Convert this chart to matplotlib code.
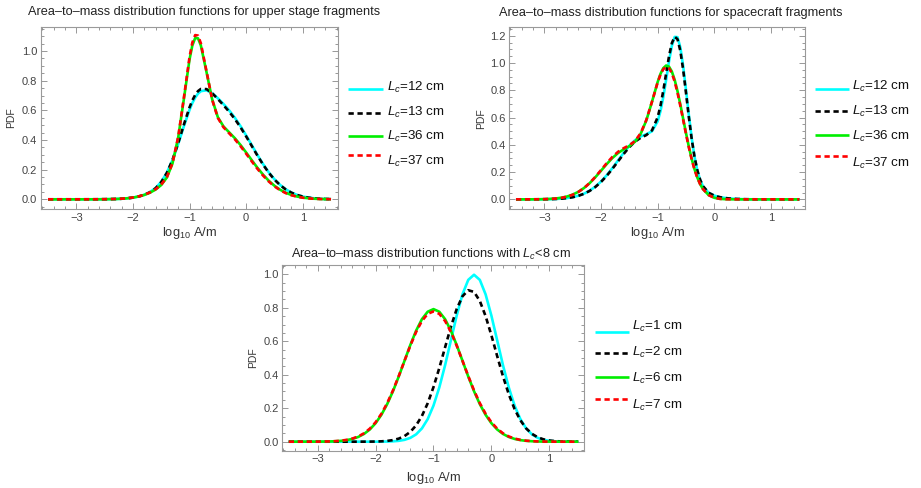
import matplotlib
matplotlib.use("Agg")
import matplotlib.pyplot as plt
from matplotlib.lines import Line2D
from matplotlib.ticker import MultipleLocator

plt.rcParams['font.family'] = ['Liberation Sans', 'DejaVu Sans']
plt.rcParams['mathtext.fontset'] = 'custom'
plt.rcParams['mathtext.rm'] = 'Liberation Sans'
plt.rcParams['mathtext.it'] = 'Liberation Sans:italic'
plt.rcParams['mathtext.bf'] = 'Liberation Sans:bold'

# ---------------- data: upper stage fragments ----------------
x_us = [-3.5, -2.9, -2.8, -2.7, -2.6, -2.5, -2.4, -2.3, -2.2, -2.1, -2.0, -1.9, -1.8, -1.7,
        -1.6, -1.5, -1.4, -1.3, -1.2, -1.1, -1.0, -0.95, -0.9, -0.85, -0.8, -0.7, -0.6,
        -0.5, -0.4, -0.3, -0.2, -0.1, 0.0, 0.1, 0.2, 0.3, 0.4, 0.5, 0.6, 0.7, 0.8, 0.9,
        1.0, 1.1, 1.2, 1.3, 1.4, 1.5]
us_12 = [0, 0, 0.0001, 0.0001, 0.0003, 0.0006, 0.0011, 0.0021, 0.0038, 0.0067, 0.0114,
         0.0189, 0.0305, 0.0483, 0.0758, 0.1177, 0.1796, 0.2653, 0.3732, 0.4921, 0.603,
         0.649, 0.6858, 0.7126, 0.7293, 0.7353, 0.7153, 0.682, 0.6431, 0.5999, 0.5505,
         0.494, 0.4312, 0.365, 0.2991, 0.2373, 0.1821, 0.1353, 0.0972, 0.0676, 0.0454,
         0.0296, 0.0187, 0.0114, 0.0067, 0.0038, 0.0021, 0.0011]
us_13 = [0, 0, 0.0001, 0.0001, 0.0003, 0.0006, 0.0011, 0.0021, 0.0038, 0.0066, 0.0112,
         0.0186, 0.0299, 0.0473, 0.0742, 0.1159, 0.1782, 0.2662, 0.3786, 0.5036, 0.6197,
         0.6668, 0.7039, 0.7296, 0.7441, 0.7432, 0.7156, 0.6766, 0.6347, 0.5908, 0.5419,
         0.4863, 0.4246, 0.3595, 0.2946, 0.2337, 0.1794, 0.1333, 0.0958, 0.0665, 0.0447,
         0.0291, 0.0184, 0.0112, 0.0066, 0.0038, 0.0021, 0.0011]
us_36 = [0, 0, 0.0001, 0.0001, 0.0003, 0.0007, 0.0013, 0.0022, 0.004, 0.0069, 0.0116,
         0.0187, 0.0292, 0.0443, 0.0655, 0.0962, 0.147, 0.2425, 0.4169, 0.6752, 0.9425,
         1.0376, 1.0873, 1.086, 1.0382, 0.8588, 0.6742, 0.5544, 0.4916, 0.4518, 0.4125,
         0.3668, 0.316, 0.2635, 0.2125, 0.1658, 0.1252, 0.0915, 0.0647, 0.0442, 0.0292,
         0.0187, 0.0116, 0.0069, 0.004, 0.0022, 0.0013, 0.0007]
us_37 = [0, 0, 0.0001, 0.0002, 0.0004, 0.0007, 0.0014, 0.0024, 0.0042, 0.0073, 0.0122,
         0.0196, 0.0305, 0.046, 0.0676, 0.0986, 0.1493, 0.2445, 0.4203, 0.684, 0.959,
         1.0569, 1.1073, 1.1043, 1.0528, 0.8638, 0.6721, 0.5494, 0.4857, 0.4452, 0.4051,
         0.3589, 0.308, 0.2559, 0.2056, 0.1598, 0.1202, 0.0875, 0.0616, 0.0419, 0.0276,
         0.0176, 0.0109, 0.0065, 0.0037, 0.0021, 0.0012, 0.0006]

# ---------------- data: spacecraft fragments ----------------
x_sc = [-3.5, -3.3, -3.2, -3.1, -3.0, -2.9, -2.8, -2.7, -2.6, -2.5, -2.4, -2.3, -2.2, -2.1,
        -2.0, -1.9, -1.8, -1.7, -1.6, -1.5, -1.4, -1.3, -1.2, -1.1, -1.0, -0.95, -0.9,
        -0.85, -0.8, -0.75, -0.7, -0.65, -0.6, -0.55, -0.5, -0.45, -0.4, -0.35, -0.3,
        -0.25, -0.2, -0.1, 0.0, 0.1, 0.2, 0.3, 0.4, 0.5, 0.6, 0.7, 0.8, 0.9, 1.0, 1.5]
sc_12 = [0, 0.0001, 0.0002, 0.0003, 0.0007, 0.0014, 0.0028, 0.0052, 0.0093, 0.016, 0.0264,
         0.0417, 0.0635, 0.0929, 0.1305, 0.1762, 0.2285, 0.2848, 0.3409, 0.3921, 0.4335,
         0.4613, 0.4773, 0.4991, 0.5727, 0.6473, 0.7514, 0.8788, 1.0119, 1.1251, 1.1913,
         1.1897, 1.1147, 0.9778, 0.8032, 0.6195, 0.4515, 0.3139, 0.2118, 0.1413, 0.0953,
         0.0479, 0.0273, 0.0161, 0.0093, 0.0052, 0.0028, 0.0014, 0.0007, 0.0003, 0.0002,
         0.0001, 0, 0]
sc_13 = [0, 0.0001, 0.0002, 0.0003, 0.0007, 0.0014, 0.0027, 0.0051, 0.0091, 0.0156, 0.0258,
         0.0407, 0.062, 0.0907, 0.1274, 0.172, 0.2231, 0.278, 0.3328, 0.3828, 0.4234,
         0.4515, 0.4716, 0.506, 0.6016, 0.6869, 0.7979, 0.9246, 1.0485, 1.1455, 1.1927,
         1.1746, 1.0898, 0.9511, 0.7809, 0.6049, 0.4445, 0.3125, 0.2131, 0.1434, 0.097,
         0.0481, 0.027, 0.0157, 0.0091, 0.0051, 0.0027, 0.0014, 0.0007, 0.0003, 0.0002,
         0.0001, 0, 0]
sc_36 = [0, 0.0001, 0.0003, 0.0007, 0.0016, 0.0033, 0.0064, 0.0118, 0.0208, 0.0347, 0.055,
         0.083, 0.1189, 0.1619, 0.2096, 0.2582, 0.3028, 0.3393, 0.3669, 0.3903, 0.4221,
         0.4801, 0.579, 0.7156, 0.8607, 0.9207, 0.9628, 0.9818, 0.9737, 0.9381, 0.8766,
         0.7938, 0.6964, 0.5914, 0.4862, 0.3868, 0.2977, 0.2217, 0.1597, 0.1114, 0.0751,
         0.031, 0.0113, 0.0036, 0.0011, 0.0003, 0.0001, 0, 0, 0, 0, 0, 0, 0]
sc_37 = [0, 0.0001, 0.0003, 0.0006, 0.0014, 0.0029, 0.0058, 0.0109, 0.0197, 0.0335, 0.0541,
         0.0827, 0.1199, 0.1648, 0.2145, 0.2651, 0.3111, 0.3482, 0.3751, 0.3973, 0.4277,
         0.4848, 0.5823, 0.7167, 0.8578, 0.9153, 0.9551, 0.972, 0.9624, 0.9258, 0.8643,
         0.7822, 0.6859, 0.5826, 0.4793, 0.3816, 0.2942, 0.2195, 0.1584, 0.1107, 0.0749,
         0.031, 0.0113, 0.0036, 0.0009, 0.0002, 0, 0, 0, 0, 0, 0, 0, 0]

# ---------------- data: Lc < 8 cm ----------------
x_sm = [-3.5, -3.2, -3.1, -3.0, -2.9, -2.8, -2.7, -2.6, -2.5, -2.4, -2.3, -2.2, -2.1, -2.0,
        -1.9, -1.8, -1.7, -1.6, -1.5, -1.4, -1.3, -1.2, -1.1, -1.0, -0.9, -0.8, -0.7, -0.6,
        -0.5, -0.4, -0.3, -0.2, -0.1, 0.0, 0.1, 0.2, 0.3, 0.4, 0.5, 0.6, 0.7, 0.8, 0.9,
        1.0, 1.1, 1.2, 1.3, 1.4, 1.5]
sm_1 = [0, 0, 0, 0, 0, 0, 0, 0, 0, 0, 0, 0, 0, 0,
        0.0003, 0.0009, 0.0022, 0.0051, 0.0111, 0.0228, 0.0438, 0.0793, 0.135, 0.2158,
        0.3238, 0.4566, 0.605, 0.7528, 0.880, 0.9666, 0.9974, 0.9666, 0.880, 0.7528, 0.605,
        0.4566, 0.3238, 0.2158, 0.135, 0.0793, 0.0438, 0.0228, 0.0111, 0.0051, 0.0022,
        0.0009, 0.0003, 0.0001, 0]
sm_2 = [0, 0, 0, 0, 0, 0, 0, 0, 0, 0, 0, 0.0002, 0.0004, 0.001,
        0.0022, 0.0047, 0.0095, 0.0183, 0.0337, 0.0588, 0.0976, 0.1537, 0.2298, 0.3264,
        0.44, 0.5637, 0.6856, 0.7918, 0.8686, 0.9047, 0.895, 0.8408, 0.75, 0.6354, 0.5112,
        0.3906, 0.2834, 0.1953, 0.1278, 0.0794, 0.0469, 0.0263, 0.014, 0.0071, 0.0034,
        0.0016, 0.0007, 0.0003, 0.0001]
sm_6 = [0, 0.0001, 0.0001, 0.0003, 0.0006, 0.0013, 0.0027, 0.0051, 0.0094, 0.0167, 0.0283,
        0.0463, 0.0729, 0.1104, 0.1605, 0.2244, 0.3015, 0.3896, 0.4839, 0.5779, 0.6633,
        0.732, 0.7765, 0.792, 0.7765, 0.732, 0.6633, 0.5779, 0.4839, 0.3896, 0.3015,
        0.2244, 0.1605, 0.1104, 0.0729, 0.0463, 0.0283, 0.0167, 0.0094, 0.0051, 0.0027,
        0.0013, 0.0006, 0.0003, 0.0001, 0.0001, 0, 0, 0]
sm_7 = [0, 0.0001, 0.0002, 0.0004, 0.0008, 0.0016, 0.0032, 0.006, 0.0108, 0.0187, 0.0312,
        0.0502, 0.0778, 0.116, 0.1666, 0.2303, 0.3063, 0.3923, 0.4836, 0.574, 0.6558,
        0.7212, 0.7636, 0.7783, 0.7636, 0.7212, 0.6558, 0.574, 0.4836, 0.3923, 0.3063,
        0.2303, 0.1666, 0.116, 0.0778, 0.0502, 0.0312, 0.0187, 0.0108, 0.006, 0.0032,
        0.0016, 0.0008, 0.0004, 0.0002, 0.0001, 0, 0, 0]

labels_us = ['$L_c$=12 cm', '$L_c$=13 cm', '$L_c$=36 cm', '$L_c$=37 cm']
labels_sm = ['$L_c$=1 cm', '$L_c$=2 cm', '$L_c$=6 cm', '$L_c$=7 cm']
titles = ['Area–to–mass distribution functions for upper stage fragments',
          'Area–to–mass distribution functions for spacecraft fragments',
          'Area–to–mass distribution functions with $L_c$<8 cm']
xlabel = 'log$_{10}$ A/m'
ylabel = 'PDF'
x_ticks = [-3, -2, -1, 0, 1]

# ---------------- styling ----------------
W, H = 921, 488
fig = plt.figure(figsize=(W / 100, H / 100), dpi=100)

LW = 1.9
styles = [dict(color='#00FFFF', lw=LW, ls='-'),
          dict(color='black', lw=LW, ls=(0, (2.0, 1.4))),
          dict(color='#00EE00', lw=LW, ls='-'),
          dict(color='#FF0000', lw=LW, ls=(0, (2.0, 1.4)))]

TICK_C = '#444444'
FRAME_C = '#9a9a9a'


def fx(px):
    return px / W


def fy(py):
    return 1 - py / H


def make_panel(box, xlim, ylim, xs, ys, title, title_xy, xlab_y, ylab_x,
               leg_x, leg_lines_y, leg_text_y, labels, ymax_tick):
    l, r, t, b = box
    ax = fig.add_axes([fx(l), fy(b), (r - l) / W, (b - t) / H])
    for y, st in zip(ys, styles):
        ax.plot(xs, y, solid_capstyle='butt', dash_capstyle='butt',
                solid_joinstyle='round', **st)
    ax.set_xlim(*xlim)
    ax.set_ylim(*ylim)
    ax.set_xticks(x_ticks)
    ax.set_xticklabels(['−3', '−2', '−1', '0', '1'])
    yt = [round(0.2 * i, 1) for i in range(int(round(ymax_tick / 0.2)) + 1)]
    ax.set_yticks(yt)
    ax.set_yticklabels([f'{v:.1f}' for v in yt])
    ax.xaxis.set_minor_locator(MultipleLocator(0.2))
    ax.yaxis.set_minor_locator(MultipleLocator(0.05))
    ax.tick_params(which='both', direction='in', top=True, right=True,
                   color='#888888', width=0.6, labelsize=8, labelcolor=TICK_C, pad=2.5)
    ax.tick_params(which='major', length=4)
    ax.tick_params(which='minor', length=2)
    for s in ax.spines.values():
        s.set_color(FRAME_C)
        s.set_linewidth(0.8)
    fig.text(fx(title_xy[0]), fy(title_xy[1]), title, ha='center', va='center',
             fontsize=9.2, color='#222222')
    fig.text(fx((l + r) / 2), fy(xlab_y), xlabel, ha='center', va='center',
             fontsize=9.3, color='#333333')
    fig.text(fx(ylab_x), fy((t + b) / 2), ylabel, ha='center', va='center',
             rotation=90, fontsize=7.5, color='#333333')
    x0, x1, xt = leg_x
    for st, ly, ty, lab in zip(styles, leg_lines_y, leg_text_y, labels):
        fig.add_artist(Line2D([fx(x0), fx(x1)], [fy(ly), fy(ly)], transform=fig.transFigure,
                              solid_capstyle='butt', dash_capstyle='butt', **st))
        fig.text(fx(xt), fy(ty), lab, ha='left', va='center', fontsize=9.6, color='#111111')
    return ax


make_panel((40.7, 337.7, 26.7, 209.3), (-3.629, 1.618), (-0.0674, 1.164),
           x_us, [us_12, us_13, us_36, us_37], titles[0], (203.7, 12.5), 233, 11,
           (348, 383, 386.5), [89, 112.5, 135.5, 155], [87, 112.5, 136.5, 161],
           labels_us, 1.0)

make_panel((509.3, 805, 27.3, 209.3), (-3.618, 1.600), (-0.073, 1.262),
           x_sc, [sc_12, sc_13, sc_36, sc_37], titles[1], (670.5, 12.7), 233, 480.7,
           (815, 849, 851.5), [89, 111.5, 135, 156], [86.5, 111.5, 136.5, 163],
           labels_us, 1.2)

make_panel((282.3, 584, 265, 451), (-3.611, 1.599), (-0.0556, 1.0556),
           x_sm, [sm_1, sm_2, sm_6, sm_7], titles[2], (431, 254), 478, 252.7,
           (595, 629, 631.5), [332.3, 352.7, 376.7, 399.3], [326, 352.7, 378.3, 405],
           labels_sm, 1.0)

fig.savefig('out.png', dpi=100)
